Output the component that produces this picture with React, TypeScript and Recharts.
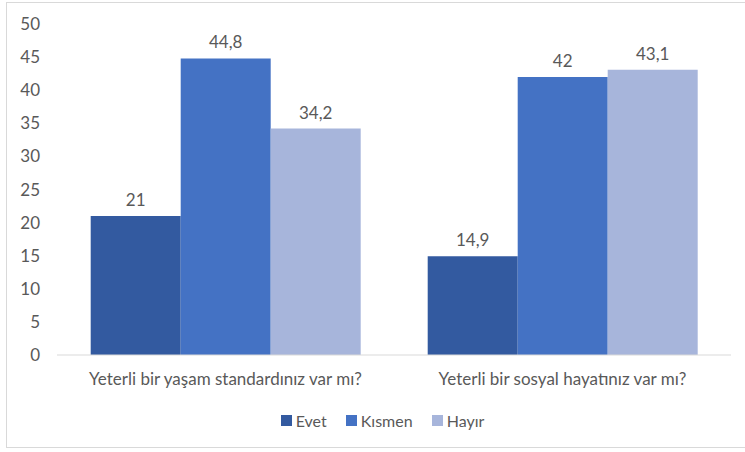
import { BarChart, Bar, XAxis, YAxis, Legend, LabelList } from 'recharts';

const questions = ['Yeterli bir yaşam standardınız var mı?', 'Yeterli bir sosyal hayatınız var mı?'];
const evet = [21, 14.9];
const kismen = [44.8, 42];
const hayir = [34.2, 43.1];
const yTicks = [0, 5, 10, 15, 20, 25, 30, 35, 40, 45, 50];

const SERIES = [
  { key: 'evet', name: 'Evet', color: '#335AA0' },
  { key: 'kismen', name: 'Kısmen', color: '#4472C4' },
  { key: 'hayir', name: 'Hayır', color: '#A7B5DB' },
];

const TEXT = '#595959';
const FONT = 'Lato, "Open Sans", sans-serif';

const fmt = (v: number) => String(v).replace('.', ',');

function LegendBox() {
  return (
    <div style={{ display: 'flex', justifyContent: 'center', alignItems: 'center', gap: 19, fontFamily: FONT, fontSize: 16, color: TEXT }}>
      {SERIES.map(s => (
        <div key={s.key} style={{ display: 'flex', alignItems: 'center', gap: 4 }}>
          <span style={{ width: 11, height: 11, background: s.color, display: 'inline-block' }} />
          <span>{s.name}</span>
        </div>
      ))}
    </div>
  );
}

export default function App() {
  const data = questions.map((q, i) => ({ name: q, evet: evet[i], kismen: kismen[i], hayir: hayir[i] }));

  return (
    <div style={{ position: 'absolute', left: 0, top: 0, width: 745, height: 452, background: '#fff' }}>
      <div style={{ position: 'absolute', left: 6, top: 2, width: 740, height: 446, border: '1px solid #D9D9D9', boxSizing: 'border-box' }} />
      <BarChart
        width={745}
        height={452}
        data={data}
        margin={{ top: 24, right: 14, left: 0, bottom: 48 }}
        barGap={0}
        barCategoryGap="10%"
        style={{ fontFamily: FONT }}
      >
        <XAxis
          dataKey="name"
          axisLine={{ stroke: '#D9D9D9' }}
          tickLine={false}
          tickMargin={12}
          tick={{ fill: TEXT, fontSize: 17 }}
        />
        <YAxis
          width={57}
          domain={[0, 50]}
          ticks={yTicks}
          axisLine={false}
          tickLine={false}
          tickMargin={11}
          tick={{ fill: TEXT, fontSize: 17 }}
        />
        <Legend
          verticalAlign="bottom"
          content={() => <LegendBox />}
          wrapperStyle={{ left: 10, width: 745, bottom: 22 }}
        />
        {SERIES.map(s => (
          <Bar key={s.key} dataKey={s.key} name={s.name} fill={s.color} isAnimationActive={false}>
            <LabelList dataKey={s.key} position="top" offset={10} formatter={fmt} style={{ fill: TEXT, fontSize: 17 }} />
          </Bar>
        ))}
      </BarChart>
    </div>
  );
}
